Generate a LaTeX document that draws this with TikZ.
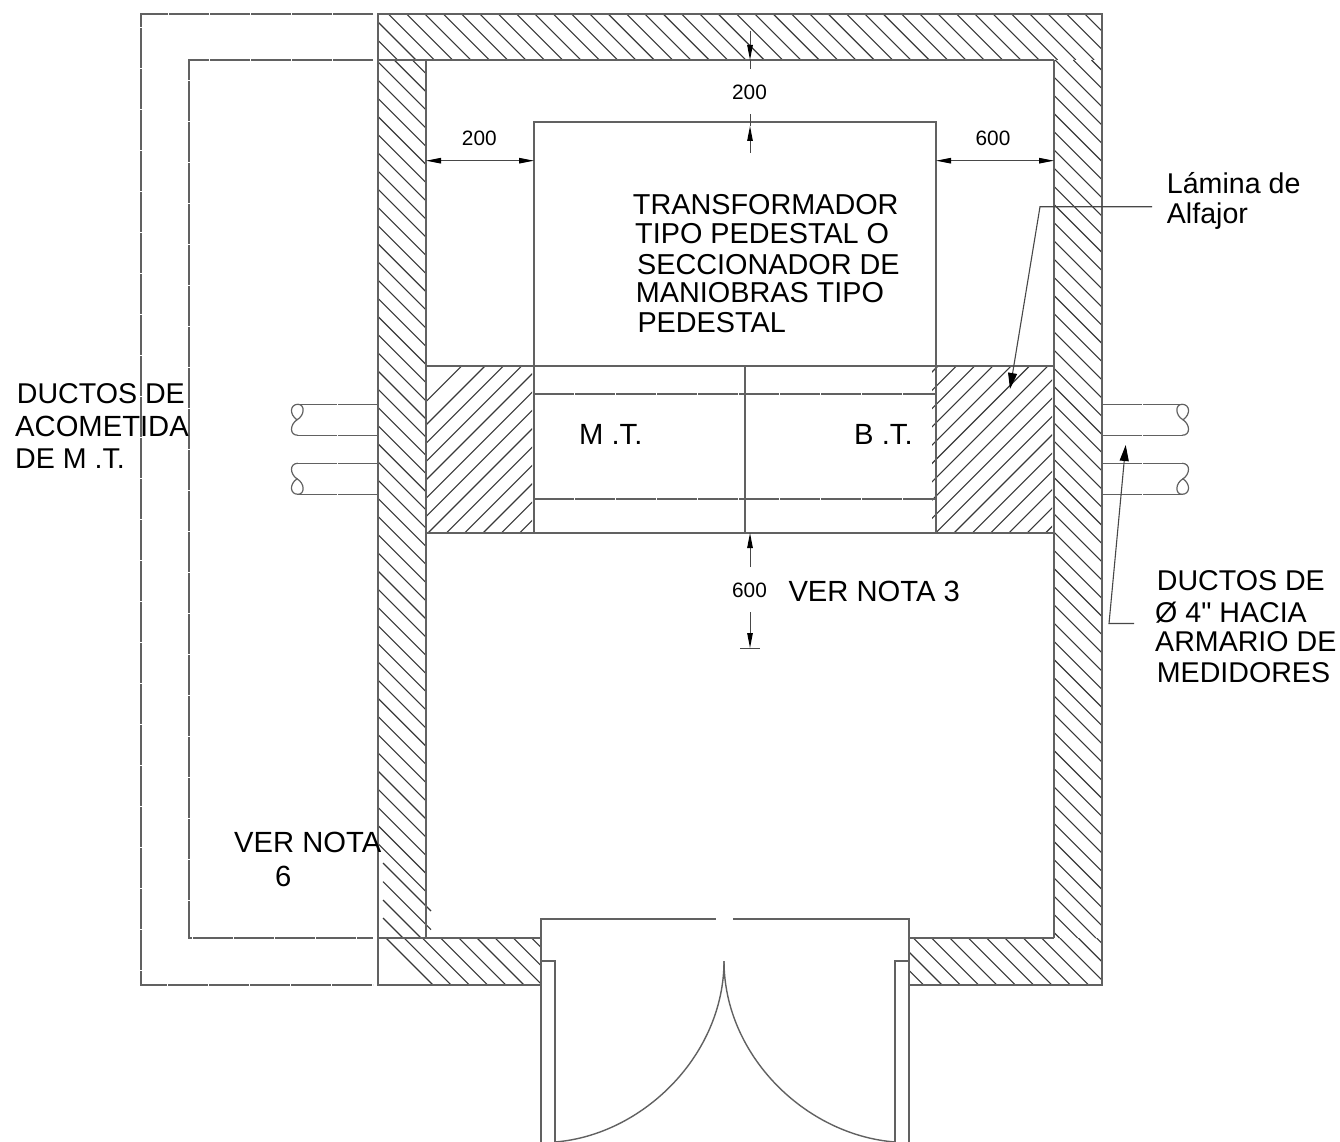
\documentclass[tikz,border=0pt]{standalone}
\usepackage{fontspec}
\setmainfont{Liberation Sans}
\newfontfamily\plainf{Liberation Sans}
\usetikzlibrary{arrows.meta}
\tikzset{
  wall/.style={draw=black!62,line width=1.6pt},
  thin line/.style={draw=black!62,line width=1.4pt},
  gapline/.style={draw=black!62,line width=1.4pt,dash pattern=on 40pt off 1pt},
  hatchline/.style={draw=black!78,line width=1.1pt},
  dimline/.style={draw=black!72,line width=1pt},
  dimtip/.style={-{Triangle[length=15pt,width=5.5pt,black]}},
  leader/.style={draw=black!72,line width=1.1pt,-{Triangle[length=16pt,width=9pt,black]}},
  bigtext/.style={anchor=base west,inner sep=0pt,text=black,font=\fontsize{29.2}{30}\selectfont},
  tftext/.style={anchor=base west,inner sep=0pt,text=black,font=\fontsize{28.8}{30}\selectfont},
  sidetext/.style={anchor=base west,inner sep=0pt,text=black,font=\fontsize{28.6}{30}\selectfont},
  dimtext/.style={anchor=base,inner sep=0pt,text=black,font=\fontsize{20.8}{22}\selectfont},
  brk/.style={draw=black!62,line width=1.2pt}
}
% clip box x0 y0 x1 y1, start c, step, first k, last k
\newcommand{\hatchDn}[8]{%
  \begin{scope}
    \clip (#1,#2) rectangle (#3,#4);
    \foreach \k in {#7,...,#8}{
      \pgfmathsetmacro{\cc}{#5+#6*\k}
      \draw[hatchline] ({\cc+#2},#2) -- ({\cc+#4},#4);
    }
  \end{scope}}
\newcommand{\hatchUp}[8]{%
  \begin{scope}
    \clip (#1,#2) rectangle (#3,#4);
    \foreach \k in {#7,...,#8}{
      \pgfmathsetmacro{\cc}{#5+#6*\k}
      \draw[hatchline] ({\cc-#2},#2) -- ({\cc-#4},#4);
    }
  \end{scope}}
\newcommand{\breakEnd}[4]{%
  \begin{scope}[shift={(#1,#2)},xscale=#3,yscale=#4]
    \draw[brk] (0,0) .. controls (-8,0) and (-9,10) .. (-1,15.5) .. controls (-8,20) and (-9,31) .. (0,31);
    \draw[brk] (0,0) .. controls (7,0) and (7,11) .. (-1,15.5);
  \end{scope}}
\begin{document}
\begin{tikzpicture}[x=1pt,y=-1pt]
\useasboundingbox (0,0) rectangle (1340,1142);
\fill[white] (0,0) rectangle (1340,1142);

% hatching of walls
\hatchDn{378}{14}{1102}{60}{374.3}{18.33}{-3}{40}
\hatchDn{378}{60}{426}{938}{-465.7}{18.18}{0}{45}
\hatchDn{1054}{60}{1102}{938}{740.3}{18.2}{-35}{17}
\hatchDn{378}{938}{541}{985}{-552}{18.2}{0}{8}
\hatchDn{909}{938}{1102}{985}{-24.7}{18.33}{-2}{11}
\coordinate (ia) at (383,863);   \coordinate (ib) at (431,911);
\coordinate (ic) at (383,881.7); \coordinate (id) at (431,929.7);
\coordinate (ie) at (383,900);   \coordinate (if) at (421,938);
\coordinate (ig) at (383,918);   \coordinate (ih) at (403,938);
\draw[hatchline] (ia) -- (ib);
\draw[hatchline] (ic) -- (id);
\draw[hatchline] (ie) -- (if);
\draw[hatchline] (ig) -- (ih);

% hatching of the two plates
\hatchUp{426}{366}{532}{533}{851}{18.33}{0}{11}
\coordinate (pa) at (426,401.7); \coordinate (pb) at (461.7,366);
\draw[hatchline] (pa) -- (pb);
\hatchUp{932}{366}{1052}{533}{1304}{18.3}{0}{15}

% walls
\draw[wall] (378,60) -- (378,14) -- (1102,14) -- (1102,985) -- (909,985);
\draw[wall] (378,60) -- (1054,60);
\draw[wall] (378,60) -- (378,985) -- (541,985);
\draw[wall] (426,60) -- (426,938);
\draw[wall] (1054,60) -- (1054,938);
\draw[wall] (378,938) -- (541,938);
\draw[wall] (909,938) -- (1054,938);

% long left conduits
\draw[gapline] (373,14) -- (141,14) -- (141,985) -- (373,985);
\draw[gapline] (373,60) -- (189,60) -- (189,938) -- (373,938);

% transformer
\draw[thin line] (534,366) -- (534,122) -- (936,122) -- (936,366);
\draw[thin line] (534,366) -- (534,533);
\draw[thin line] (936,366) -- (936,533);
\draw[thin line] (426,366) -- (1054,366);
\draw[thin line] (426,533) -- (1054,533);
\draw[thin line] (745,366) -- (745,533);
\draw[gapline] (534,394) -- (936,394);
\draw[gapline] (534,499) -- (936,499);

% ducts
\draw[gapline] (378,404.3) -- (298,404.3);
\draw[gapline] (378,435.3) -- (298,435.3);
\draw[gapline] (378,463.7) -- (298,463.7);
\draw[gapline] (378,494.3) -- (298,494.3);
\breakEnd{298}{404.3}{1}{1}
\breakEnd{298}{494.3}{1}{-1}
\draw[gapline] (1102,404.3) -- (1182,404.3);
\draw[gapline] (1102,435.6) -- (1182,435.6);
\draw[gapline] (1102,463.7) -- (1182,463.7);
\draw[gapline] (1102,494.3) -- (1182,494.3);
\breakEnd{1182}{404.3}{-1}{1}
\breakEnd{1182}{494.3}{-1}{-1}

% door
\draw[wall] (541,938) -- (541,1142);
\draw[wall] (909,938) -- (909,1142);
\draw[wall] (541,938) -- (541,919) -- (716,919);
\draw[wall] (733,919) -- (909,919) -- (909,938);
\draw[thin line] (541,961) -- (555,961) -- (555,1142);
\draw[thin line] (909,961) -- (895,961) -- (895,1142);
\coordinate (dt) at (724,961);
\coordinate (dr) at (895,1142);
\coordinate (dl) at (555,1142);
\draw[thin line] (dt) .. controls (724,1055) and (805,1135) .. (dr);
\draw[thin line] (dt) .. controls (724,1055) and (643,1135) .. (dl);

% dimensions
\coordinate (wi) at (426,160.7); \coordinate (ti) at (534,160.7);
\coordinate (tr) at (936,160.7); \coordinate (wr) at (1054,160.7);
\draw[dimline,{Triangle[length=15pt,width=5.5pt,black]}-{Triangle[length=15pt,width=5.5pt,black]}] (wi) -- (ti);
\draw[dimline,{Triangle[length=15pt,width=5.5pt,black]}-{Triangle[length=15pt,width=5.5pt,black]}] (tr) -- (wr);
\node[dimtext] (d200a) at (479.3,145.7) {200};
\node[dimtext] (d600a) at (993,145.7) {600};
\coordinate (va) at (750,30.7); \coordinate (vb) at (750,60); \coordinate (vc) at (750,69);
\coordinate (vd) at (750,153); \coordinate (ve) at (750,126); \coordinate (vf) at (750,114);
\draw[dimline,dimtip] (va) -- (vb);
\draw[dimline] (vb) -- (vc);
\draw[dimline,dimtip] (vd) -- (ve);
\draw[dimline] (ve) -- (vf);
\node[dimtext] (d200b) at (749.5,99.3) {200};
\coordinate (vg) at (750,567); \coordinate (vh) at (750,533);
\coordinate (vi) at (750,612); \coordinate (vj) at (750,648);
\coordinate (vk) at (740,648.5); \coordinate (vl) at (760,648.5);
\draw[dimline,dimtip] (vg) -- (vh);
\draw[dimline,dimtip] (vi) -- (vj);
\draw[dimline] (vk) -- (vl);
\node[dimtext] (d600b) at (749.5,597.7) {600};

% leaders
\coordinate (la) at (1152,206.7); \coordinate (lb) at (1040,206.7); \coordinate (lc) at (1010,389);
\draw[leader] (la) -- (lb) -- (lc);
\coordinate (da) at (1134,623.5); \coordinate (db) at (1109,623.5); \coordinate (dc) at (1125.7,445);
\draw[leader] (da) -- (db) -- (dc);

% texts
\node[tftext] (t1) at (632.7,214) {TRANSFORMADOR};
\node[tftext] (t2) at (635,243.5) {TIPO PEDESTAL O};
\node[tftext] (t3) at (637,274) {SECCIONADOR DE};
\node[tftext] (t4) at (635.7,302.5) {MANIOBRAS TIPO};
\node[tftext] (t5) at (637.3,332.5) {PEDESTAL};
\node[bigtext] (mt) at (579,444.3) {M .T.};
\node[bigtext] (bt) at (854,444.3) {B .T.};
\node[bigtext] (n3) at (788.3,601.7) {VER NOTA 3};
\node[sidetext] (a1) at (16.7,403.3) {DUCTOS DE};
\node[bigtext] (a2) at (15,436) {ACOMETIDA};
\node[sidetext] (a3) at (15,468.3) {DE M .T.};
\node[sidetext] (l1) at (1166.7,193.3) {Lámina de};
\node[sidetext] (l2) at (1166.7,223.3) {Alfajor};
\node[sidetext] (r1) at (1156.7,590) {DUCTOS DE};
\node[sidetext] (r2) at (1155,622.7) {Ø 4{\plainf"} HACIA};
\node[sidetext] (r3) at (1155,651.7) {ARMARIO DE};
\node[sidetext] (r4) at (1156.7,682.7) {MEDIDORES};
\node[bigtext] (n6a) at (234,852.3) {VER NOTA};
\node[bigtext] (n6b) at (275,886) {6};
\end{tikzpicture}
\end{document}
